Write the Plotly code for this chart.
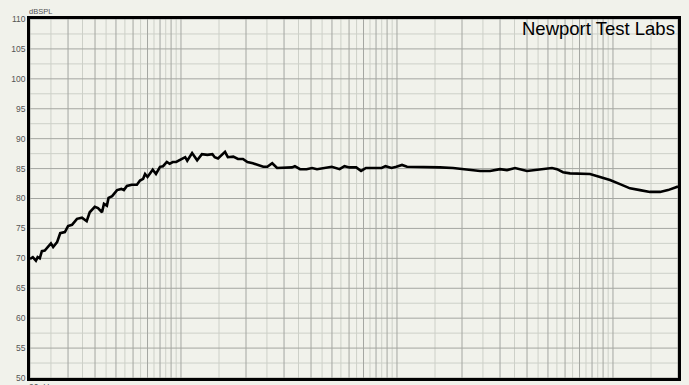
import math
import plotly.graph_objects as go

# Frequency response measurement (Hz, dB SPL)
freq_hz = [
    20.0, 20.6, 21.3, 21.7, 22.2, 22.7, 23.4, 24.2, 25.0, 25.6, 26.7, 27.6,
    29.0, 30.0, 31.3, 33.0, 34.8, 36.6, 37.8, 39.9, 41.3, 43.1, 44.0, 45.4,
    46.2, 48.0, 50.6, 53.0, 54.4, 56.2, 59.2, 62.5, 64.6, 66.8, 68.2, 70.0,
    74.0, 76.6, 80.0, 82.6, 86.0, 88.6, 91.6, 95.0, 101, 104.6, 106.9, 112.6,
    118.8, 125, 132.5, 139.8, 143.3, 148.4, 159.9, 164.8, 174.6, 183.5,
    193.6, 203, 215.2, 227.6, 240.4, 251, 264.5, 278.6, 293.6, 309.6, 326.3,
    336.8, 355.7, 381.4, 404.4, 426.4, 454, 498.9, 542.5, 571.4, 601.9,
    647.7, 682.1, 718.5, 797.2, 848.8, 884.7, 943.2, 993.6, 1055, 1113,
    1186, 1278, 1378, 1582, 1817, 2000, 2178, 2424, 2696, 2998, 3231,
    3520, 4000, 4355, 4743, 5218, 5506, 5870, 6325, 7034, 7828, 8710,
    9685, 10778, 11990, 13338, 14826, 16508, 17979, 20000,
]
spl_db = [
    69.9, 70.2, 69.6, 70.2, 70.0, 71.2, 71.3, 72.0, 72.5, 71.9, 72.7, 74.2,
    74.4, 75.4, 75.6, 76.6, 76.8, 76.2, 77.7, 78.6, 78.4, 77.7, 79.1, 78.8,
    80.1, 80.4, 81.4, 81.6, 81.4, 82.1, 82.3, 82.3, 83.0, 83.3, 84.1, 83.6,
    84.8, 84.1, 85.3, 85.4, 86.1, 85.8, 86.1, 86.1, 86.7, 86.9, 86.3, 87.6,
    86.4, 87.4, 87.3, 87.4, 86.9, 86.7, 87.8, 86.9, 87.0, 86.6,
    86.6, 86.1, 85.9, 85.6, 85.3, 85.3, 85.9, 85.1, 85.1, 85.1, 85.2,
    85.4, 84.9, 84.9, 85.1, 84.9, 85.1, 85.3, 84.9, 85.4, 85.2,
    85.2, 84.6, 85.1, 85.1, 85.1, 85.4, 85.1, 85.3, 85.6, 85.3,
    85.3, 85.3, 85.3, 85.2, 85.1, 84.9, 84.7, 84.6, 84.6, 84.9, 84.75,
    85.1, 84.6, 84.75, 84.9, 85.1, 84.9, 84.4, 84.2, 84.2, 84.1, 83.6,
    83.1, 82.4, 81.7, 81.4, 81.1, 81.1, 81.4, 82.0,
]

# Log-paper grid: darker lines on whole steps, lighter on half steps
major_x = [20, 30, 40, 50, 60, 70, 80, 90,
           100, 200, 300, 400, 500, 600, 700, 800, 900,
           1000, 2000, 3000, 4000, 5000, 6000, 7000, 8000, 9000,
           10000, 20000]
minor_x = [25, 35, 45, 55, 65, 75, 85, 95,
           150, 250, 350, 450, 550, 650, 750, 850, 950,
           1500, 2500, 3500, 4500, 5500, 6500, 7500, 8500, 9500,
           15000]
x_labels = {50: "50", 100: "100", 200: "200", 500: "500", 1000: "1K",
            2000: "2K", 5000: "5K", 10000: "10K", 20000: "20K"}
major_y = [50, 55, 60, 65, 70, 75, 80, 85, 90, 95, 100, 105, 110]
minor_y = [52.5, 57.5, 62.5, 67.5, 72.5, 77.5, 82.5, 87.5, 92.5, 97.5,
           102.5, 107.5]

F_MIN, F_MAX = 20, 20000
DB_MIN, DB_MAX = 50, 110

BG = "#f1f2eb"
GRID_DARK = "#a4a6a1"
GRID_LIGHT = "#cdd0c8"
LABEL = "#555555"


def segments_vertical(xs):
    gx, gy = [], []
    for v in xs:
        gx += [v, v, None]
        gy += [DB_MIN, DB_MAX, None]
    return gx, gy


def segments_horizontal(ys):
    gx, gy = [], []
    for v in ys:
        gx += [F_MIN, F_MAX, None]
        gy += [v, v, None]
    return gx, gy


fig = go.Figure()

# light half-step grid lines
vx, vy = segments_vertical(minor_x)
hx, hy = segments_horizontal(minor_y)
fig.add_trace(go.Scatter(
    x=vx + hx, y=vy + hy, mode="lines",
    line=dict(color=GRID_LIGHT, width=1),
    hoverinfo="skip", showlegend=False,
))
# darker whole-step grid lines
vx, vy = segments_vertical(major_x)
hx, hy = segments_horizontal(major_y)
fig.add_trace(go.Scatter(
    x=vx + hx, y=vy + hy, mode="lines",
    line=dict(color=GRID_DARK, width=1),
    hoverinfo="skip", showlegend=False,
))

fig.add_trace(go.Scatter(
    x=freq_hz, y=spl_db, mode="lines",
    line=dict(color="black", width=2.6),
    hoverinfo="skip", showlegend=False,
))

fig.update_layout(
    width=689, height=385,
    margin=dict(l=30, r=11, t=19, b=7),
    paper_bgcolor=BG, plot_bgcolor=BG,
    font=dict(family="Liberation Sans, Arial, sans-serif", color=LABEL),
    xaxis=dict(
        type="log",
        range=[math.log10(F_MIN), math.log10(F_MAX)],
        tickmode="array",
        tickvals=list(x_labels.keys()),
        ticktext=list(x_labels.values()),
        tickfont=dict(size=8.5, color=LABEL),
        ticks="", showgrid=False,
        showline=True, linecolor="black", linewidth=2.5, mirror=True,
        zeroline=False, automargin=False, fixedrange=True,
    ),
    yaxis=dict(
        range=[DB_MIN, DB_MAX],
        tickmode="array",
        tickvals=major_y,
        ticktext=[str(v) for v in major_y],
        tickfont=dict(size=8.5, color=LABEL),
        ticks="", showgrid=False,
        showline=True, linecolor="black", linewidth=2.5, mirror=True,
        zeroline=False, automargin=False, fixedrange=True,
    ),
    annotations=[
        dict(text="Newport Test Labs", xref="paper", yref="paper",
             x=0.998, y=1.0, xanchor="right", yanchor="top", yshift=3,
             showarrow=False,
             font=dict(size=18.5, color="black",
                       family="Liberation Sans, Arial, sans-serif")),
        dict(text="dBSPL", xref="paper", yref="paper",
             x=0.0, y=1.0, xanchor="left", yanchor="bottom",
             xshift=-3, yshift=1,
             showarrow=False, font=dict(size=7.5, color=LABEL)),
        dict(text="20  Hz", xref="x", yref="paper",
             x=math.log10(20), y=0.0, xanchor="left", yanchor="top",
             xshift=-3, yshift=-2,
             showarrow=False, font=dict(size=8.5, color=LABEL)),
    ],
)

fig.write_html("out.html")
